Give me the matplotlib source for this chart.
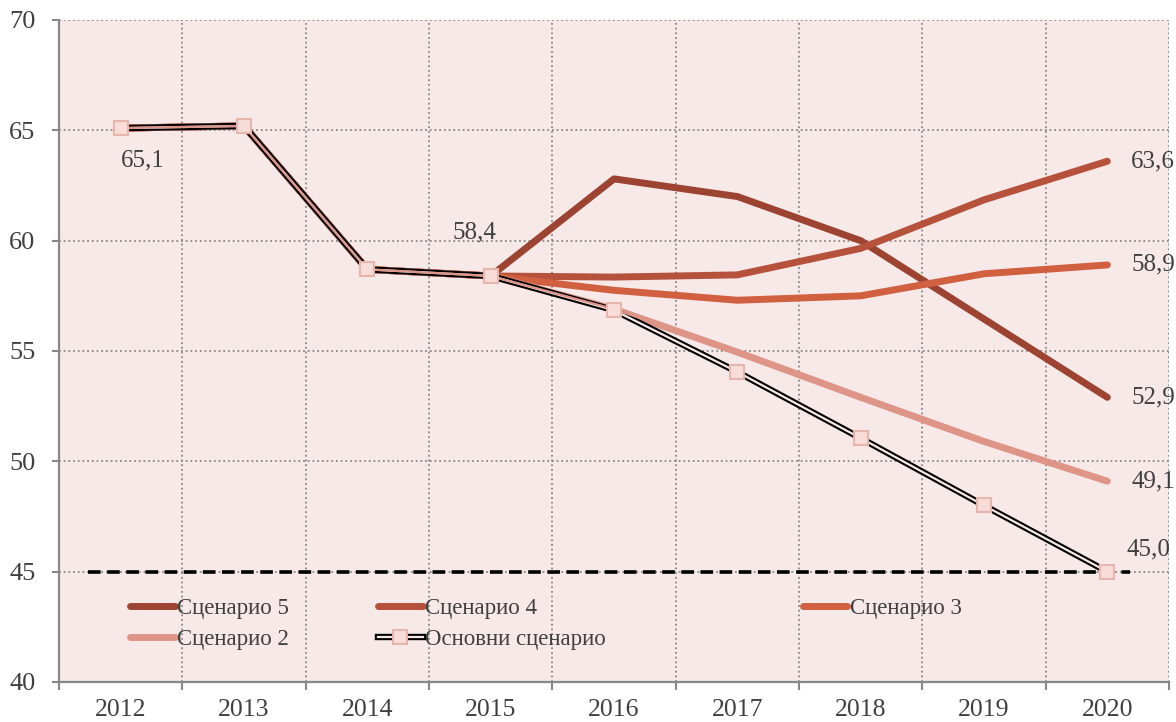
import matplotlib.pyplot as plt
import numpy as np
from matplotlib.lines import Line2D
from matplotlib.legend_handler import HandlerTuple

years = ['2012', '2013', '2014', '2015', '2016', '2017', '2018', '2019', '2020']
base = [65.1, 65.2, 58.7, 58.4, 56.85, 54.05, 51.05, 48.0, 45.0]
scen5 = [65.1, 65.2, 58.7, 58.4, 62.8, 62.0, 60.0, 56.45, 52.9]
scen4 = [65.1, 65.2, 58.7, 58.4, 58.35, 58.45, 59.65, 61.85, 63.6]
scen3 = [65.1, 65.2, 58.7, 58.4, 57.75, 57.3, 57.5, 58.5, 58.9]
scen2 = [65.1, 65.2, 58.7, 58.4, 56.9, 54.95, 52.9, 50.9, 49.1]
target = 45.0

bg = '#f7e9e8'
c5, c4, c3, c2 = '#9c4431', '#b6523b', '#d0603f', '#de9588'

plt.rcParams['font.family'] = ['Liberation Serif', 'DejaVu Serif']

fig = plt.figure(figsize=(11.76, 7.22), dpi=100)
ax = fig.add_axes([59 / 1176, 1 - 682 / 722, 1110 / 1176, 662 / 722])
ax.set_facecolor(bg)

x = np.arange(len(years))
l5, = ax.plot(x, scen5, color=c5, lw=5, solid_capstyle='round', zorder=3)
l4, = ax.plot(x, scen4, color=c4, lw=5, solid_capstyle='round', zorder=3)
l3, = ax.plot(x, scen3, color=c3, lw=5, solid_capstyle='round', zorder=3)
l2, = ax.plot(x, scen2, color=c2, lw=5, solid_capstyle='round', zorder=3)

# double black line for the base scenario, hollow centre
ax.plot(x, base, color='black', lw=4.6, zorder=4)
ax.plot(x, base, color=bg, lw=1.6, zorder=5)
ax.plot(x, scen2, color=c2, lw=1.6, zorder=5.5)
ax.plot(x, base, ls='none', marker='s', ms=10, mfc='#f8dcd7', mec='#e6b5ac', mew=1.5, zorder=6)

ax.axhline(target, xmin=0.026, xmax=0.965, color='black', lw=2.6, ls=(0, (3.5, 1.8)), zorder=4.5)

# data labels
lab_kw = dict(textcoords='offset pixels', fontsize=18, color='#404040', va='center')
ax.annotate('65,1', (0, base[0]), xytext=(0, -32), ha='left', **lab_kw)
ax.annotate('58,4', (3, base[3]), xytext=(6, 44), ha='right', **lab_kw)
ax.annotate('63,6', (8, scen4[-1]), xytext=(24, 0), ha='left', **lab_kw)
ax.annotate('58,9', (8, scen3[-1]), xytext=(24, 0), ha='left', **lab_kw)
ax.annotate('52,9', (8, scen5[-1]), xytext=(24, 0), ha='left', **lab_kw)
ax.annotate('49,1', (8, scen2[-1]), xytext=(24, 0), ha='left', **lab_kw)
ax.annotate('45,0', (8, base[-1]), xytext=(19, 22), ha='left', **lab_kw)

ax.set_xlim(-0.5, len(years) - 0.5)
ax.set_ylim(40, 70)
ax.set_yticks(np.arange(40, 71, 5))
ax.set_xticks(np.arange(-0.5, len(years), 1))
ax.set_xticklabels([])
ax.set_xticks(x, minor=True)
ax.set_xticklabels(years, minor=True)
ax.tick_params(axis='x', which='minor', length=0, pad=12, labelsize=18.5, labelcolor='#404040')
ax.tick_params(axis='x', which='major', length=6, width=1.5, color='#888888')
ax.tick_params(axis='y', length=5, width=1.5, color='#888888', pad=12, labelsize=19, labelcolor='#404040')

ax.grid(True, which='major', color='#888888', ls=(0, (1, 1.6)), lw=1.3)
ax.set_axisbelow(True)
for s in ['top', 'right']:
    ax.spines[s].set_visible(False)
for s in ['left', 'bottom']:
    ax.spines[s].set_color('#888888')
    ax.spines[s].set_linewidth(1.6)

base_handle = (Line2D([], [], color='black', lw=4.6),
               Line2D([], [], color=bg, lw=1.6),
               Line2D([], [], ls='none', marker='s', ms=10, mfc='#f8dcd7', mec='#e6b5ac', mew=1.5))

leg_kw = dict(frameon=False, fontsize=16.5, handlelength=1.95, handletextpad=0.1,
              borderpad=0, borderaxespad=0, labelspacing=0.45, labelcolor='#404040',
              loc='upper left', handler_map={tuple: HandlerTuple(ndivide=1, pad=0)})
leg1 = ax.legend([l5, l2], ['Сценарио 5', 'Сценарио 2'], bbox_to_anchor=(0.064, 0.127), **leg_kw)
ax.add_artist(leg1)
leg2 = ax.legend([l4, base_handle], ['Сценарио 4', 'Основни сценарио'],
                 bbox_to_anchor=(0.2875, 0.127), **leg_kw)
ax.add_artist(leg2)
ax.legend([l3], ['Сценарио 3'], bbox_to_anchor=(0.67, 0.127), **leg_kw)

fig.savefig('out.png', dpi=100)
